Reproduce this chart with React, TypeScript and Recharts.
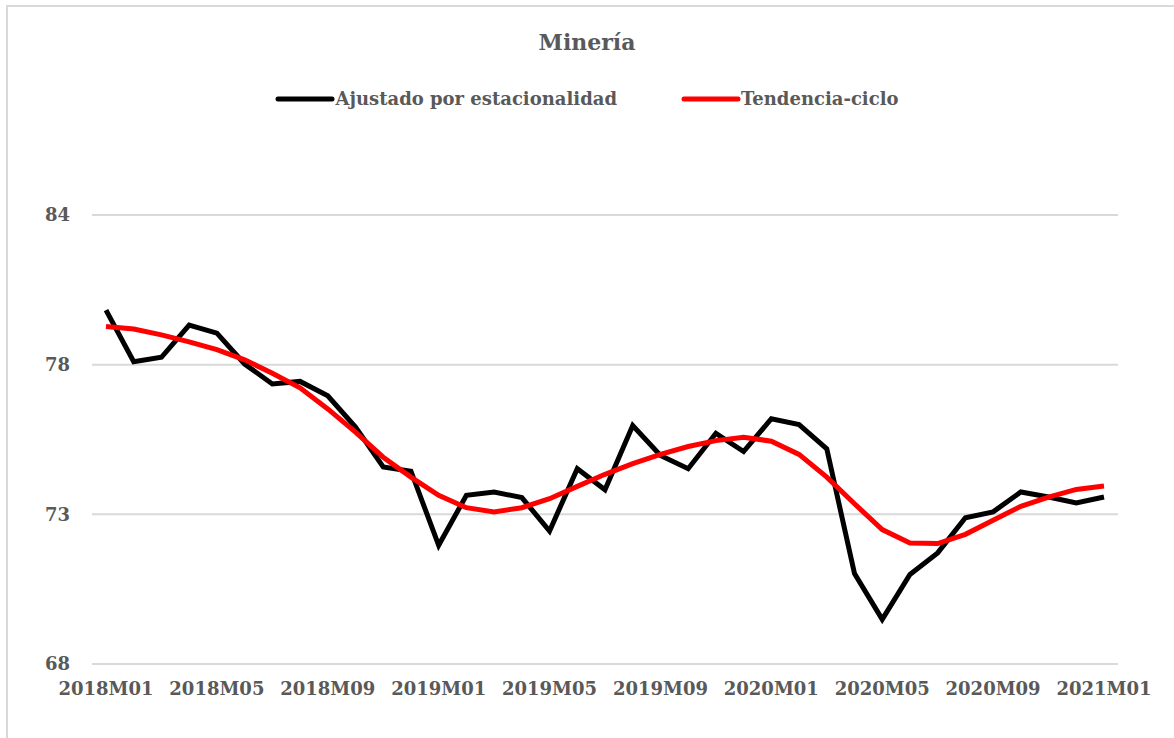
import { CartesianGrid, Line, LineChart, XAxis, YAxis } from 'recharts';

const months = [
  '2018M01', '2018M02', '2018M03', '2018M04', '2018M05', '2018M06', '2018M07', '2018M08',
  '2018M09', '2018M10', '2018M11', '2018M12', '2019M01', '2019M02', '2019M03', '2019M04',
  '2019M05', '2019M06', '2019M07', '2019M08', '2019M09', '2019M10', '2019M11', '2019M12',
  '2020M01', '2020M02', '2020M03', '2020M04', '2020M05', '2020M06', '2020M07', '2020M08',
  '2020M09', '2020M10', '2020M11', '2020M12', '2021M01',
];

const ajustado = [
  80.61, 78.77, 78.93, 80.08, 79.79, 78.69, 77.98, 78.07, 77.56, 76.44, 75.02, 74.87,
  72.23, 74.01, 74.13, 73.93, 72.74, 74.96, 74.21, 76.5, 75.43, 74.96, 76.22, 75.57,
  76.74, 76.53, 75.67, 71.22, 69.59, 71.19, 71.96, 73.21, 73.42, 74.13, 73.95, 73.74,
  73.95,
];

const tendencia = [
  80.03, 79.94, 79.73, 79.48, 79.2, 78.84, 78.36, 77.84, 77.09, 76.26, 75.37, 74.66,
  74.01, 73.57, 73.42, 73.57, 73.89, 74.33, 74.76, 75.14, 75.47, 75.75, 75.96, 76.08,
  75.94, 75.47, 74.66, 73.71, 72.79, 72.31, 72.29, 72.62, 73.12, 73.62, 73.95, 74.22,
  74.34,
];

const yTicks = [68, 68 + 16 / 3, 68 + 32 / 3, 84];

const data = months.map((m, i) => ({
  month: m,
  ajustado: ajustado[i],
  tendencia: tendencia[i],
}));

const FONT = '"DejaVu Serif", serif';
const GRAY = '#595959';

const legendItems = [
  { label: 'Ajustado por estacionalidad', color: '#000000' },
  { label: 'Tendencia-ciclo', color: '#ff0000' },
];

function LegendBlock() {
  return (
    <div
      style={{
        position: 'absolute',
        left: 0,
        top: 88,
        width: 1174,
        display: 'flex',
        justifyContent: 'center',
        gap: 64,
        fontFamily: FONT,
        fontWeight: 'bold',
        fontSize: 18,
        color: GRAY,
      }}
    >
      {legendItems.map((item) => (
        <div key={item.label} style={{ display: 'flex', alignItems: 'center' }}>
          <svg width={60} height={10}>
            <line
              x1={3}
              y1={5}
              x2={57}
              y2={5}
              stroke={item.color}
              strokeWidth={5}
              strokeLinecap="round"
            />
          </svg>
          <span>{item.label}</span>
        </div>
      ))}
    </div>
  );
}

export default function App() {
  return (
    <div
      style={{
        position: 'absolute',
        left: 0,
        top: 0,
        width: 1174,
        height: 738,
        background: '#fff',
        overflow: 'hidden',
      }}
    >
      <div
        style={{
          position: 'absolute',
          left: 6,
          top: 5,
          width: 1180,
          height: 760,
          border: '2px solid #d9d9d9',
          boxSizing: 'border-box',
        }}
      />
      <div
        style={{
          position: 'absolute',
          left: 0,
          top: 29,
          width: 1174,
          textAlign: 'center',
          fontFamily: FONT,
          fontWeight: 'bold',
          fontSize: 22,
          color: GRAY,
        }}
      >
        Minería
      </div>
      <LegendBlock />
      <div style={{ position: 'absolute', left: 0, top: 0 }}>
        <LineChart
          width={1174}
          height={738}
          data={data}
          margin={{ top: 215, right: 56, bottom: 34, left: 0 }}
        >
          <CartesianGrid vertical={false} stroke="#d9d9d9" strokeWidth={2} />
          <XAxis
            dataKey="month"
            interval={3}
            height={40}
            padding={{ left: 14, right: 14 }}
            axisLine={false}
            tickLine={false}
            tickMargin={12}
            tick={{ fill: GRAY, fontSize: 18, fontFamily: FONT, fontWeight: 'bold' }}
          />
          <YAxis
            width={92}
            domain={[68, 84]}
            ticks={yTicks}
            axisLine={false}
            tickLine={false}
            tickMargin={16}
            tickFormatter={(v: number) => String(Math.floor(v + 1e-9))}
            tick={{ fill: GRAY, fontSize: 18, fontFamily: FONT, fontWeight: 'bold' }}
          />
          <Line
            type="linear"
            dataKey="ajustado"
            stroke="#000000"
            strokeWidth={5}
            dot={false}
            isAnimationActive={false}
          />
          <Line
            type="linear"
            dataKey="tendencia"
            stroke="#ff0000"
            strokeWidth={5}
            dot={false}
            isAnimationActive={false}
          />
        </LineChart>
      </div>
    </div>
  );
}
